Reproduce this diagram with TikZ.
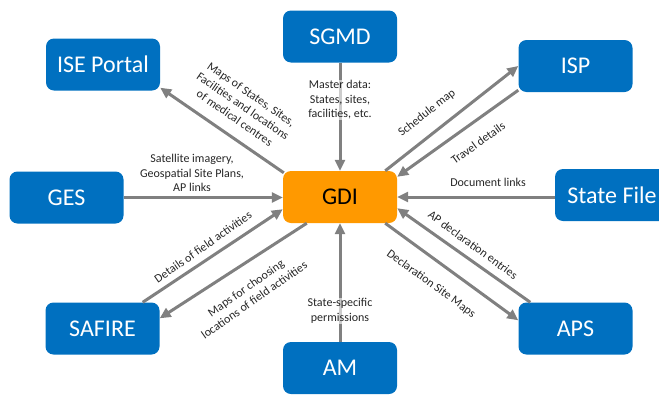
\documentclass[tikz,border=0pt]{standalone}
\usepackage{fontspec}
\setmainfont{Carlito}
\usetikzlibrary{arrows.meta,calc}
\definecolor{boxblue}{HTML}{0070C0}
\definecolor{gdiorange}{HTML}{FF9900}
\definecolor{arrowgrey}{HTML}{808080}
\begin{document}
\begin{tikzpicture}[x=1pt,y=-1pt,
  sys/.style={rectangle, rounded corners=8pt, fill=boxblue, text=white, minimum width=114pt, minimum height=52pt, font=\fontsize{24}{28}\selectfont, inner sep=0pt},
  hub/.style={sys, fill=gdiorange, text=black},
  flow/.style={draw=arrowgrey, line width=3pt, -{Triangle[length=11pt,width=10pt]}},
  lbl/.style={font=\fontsize{12}{14.5}\selectfont, align=center, inner sep=1pt, text=black!85},
  veil/.style={fill=white, fill opacity=0.6, text opacity=1},
  ]
\useasboundingbox (0,0) rectangle (659,394);
\clip (0,0) rectangle (659,394);

\node[sys] (ise) at (103,64.5) {ISE Portal};
\node[sys] (sgmd) at (340,36.5) {SGMD};
\node[sys] (isp) at (575.5,66) {ISP};
\node[sys] (ges) at (66.5,197.5) {GES};
\node[hub] (gdi) at (340,197) {GDI};
\node[sys] (sf) at (612,195) {State File};
\node[sys] (safire) at (102.5,328.5) {SAFIRE};
\node[sys] (am) at (340,368) {AM};
\node[sys] (aps) at (575.5,328.5) {APS};

% connectors
\draw[flow] ($(gdi.north west)+(1,2)$) -- ($(ise.south east)+(0,-3)$);
\draw[flow] (sgmd.south) -- (gdi.north);
\draw[flow] ($(gdi.north east)+(-12,0)$) -- (isp.west);
\draw[flow] ($(isp.south west)+(0,-2)$) -- ($(gdi.north east)+(0,6)$);
\draw[flow] (ges.east) -- (ges.east -| gdi.west);
\draw[flow] (gdi.east -| sf.west) -- (gdi.east);
\draw[flow] ($(aps.north west)+(12,0)$) -- ($(gdi.south east)+(0,-15)$);
\draw[flow] ($(gdi.south east)+(-12,0)$) -- ($(aps.north west)+(0,18)$);
\draw[flow] ($(safire.north east)+(-17,0)$) -- ($(gdi.south west)+(0,-14)$);
\draw[flow] ($(gdi.south west)+(24,0)$) -- ($(safire.north east)+(0,16)$);
\draw[flow] (am.north) -- (gdi.south);

% labels
\node[lbl, rotate=-34.6] (l1) at (243,106) {Maps of States, Sites,\\Facilities and locations\\of medical centres};
\node[lbl, veil] (l2) at (340,100) {Master data:\\States, sites,\\facilities, etc.};
\node[lbl, rotate=38] (l3) at (427,113) {Schedule map};
\node[lbl, rotate=36] (l4) at (478,143) {Travel details};
\node[lbl] (l5) at (192,173) {Satellite imagery,\\Geospatial Site Plans,\\AP links};
\node[lbl] (l6) at (488,182) {Document links};
\node[lbl, rotate=-36] (l7) at (473,245) {AP declaration entries};
\node[lbl, rotate=-36] (l8) at (431,284) {Declaration Site Maps};
\node[lbl, rotate=35] (l9) at (203,247) {Details of field activities};
\node[lbl, rotate=35] (l10) at (250,294) {Maps for choosing\\locations of field activities};
\node[lbl, veil] (l11) at (340,311) {State-specific\\permissions};
\end{tikzpicture}
\end{document}
